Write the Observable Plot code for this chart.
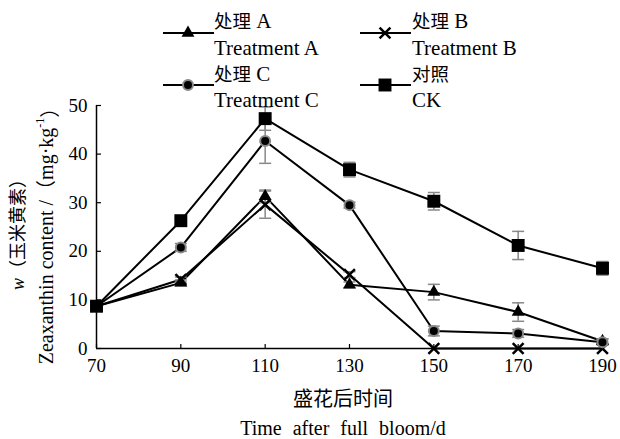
<!DOCTYPE html>
<html>
<head>
<meta charset="utf-8">
<script src="https://cdn.jsdelivr.net/npm/d3@7"></script>
<script src="https://cdn.jsdelivr.net/npm/@observablehq/plot@0.6"></script>
<style>
  body { margin: 0; background: #fff; }
  #chart { width: 620px; height: 439px; overflow: hidden; }
  svg { display: block; }
</style>
</head>
<body>
<div id="chart"></div>
<script>
// ---- data ----
const days = [70, 90, 110, 130, 150, 170, 190];
const seriesCn = ["处理", "处理", "处理", "对照"];
const seriesSuffix = [" A", " B", " C", ""];
const seriesEn = ["Treatment A", "Treatment B", "Treatment C", "CK"];
const valA  = [8.7, 13.5, 31.3, 13.1, 11.6, 7.5, 1.5];
const valB  = [8.7, 14.2, 29.6, 15.2, 0, 0, 0];
const valC  = [8.7, 20.8, 42.7, 29.5, 3.6, 3.1, 1.3];
const valCK = [8.7, 26.3, 47.3, 36.8, 30.3, 21.2, 16.5];
const errA  = [0, 0.6, 1.3, 0.6, 1.6, 1.9, 0.5];
const errB  = [0, 0.5, 2.8, 0.6, 0, 0, 0];
const errC  = [0, 0.8, 4.6, 0.6, 1.0, 0.8, 0.6];
const errCK = [0, 0.5, 2.4, 1.5, 1.8, 2.9, 1.4];
const xTicks = [70, 90, 110, 130, 150, 170, 190];
const yTicks = [0, 10, 20, 30, 40, 50];

const values = [valA, valB, valC, valCK];
const errors = [errA, errB, errC, errCK];
const symbols = ["triangle", "times", "circle", "square"];
const radii = [4.8, 5, 5, 7.3];

const data = [];
seriesEn.forEach((s, i) => {
  days.forEach((d, j) => {
    data.push({series: s, idx: i, day: d, value: values[i][j], err: errors[i][j]});
  });
});
const errData = data.filter(d => d.err > 0);

const capSymbol = {
  draw(ctx, size) { const w = 6; ctx.moveTo(-w, 0); ctx.lineTo(w, 0); }
};

const serif = "'Liberation Serif', 'Times New Roman', 'Noto Sans CJK SC', serif";

// ---- plot ----
const marks = [
  Plot.ruleY([0], {x1: 70, x2: 190, stroke: "black", strokeWidth: 1.5}),
  Plot.ruleX([70], {y1: 0, y2: 50, stroke: "black", strokeWidth: 1.5}),
  Plot.axisX({ticks: xTicks, tickSize: -4, tickPadding: 14, tickFormat: d => String(d), strokeWidth: 1.2, label: null}),
  Plot.axisY({ticks: yTicks, tickSize: -5, tickPadding: 14, tickFormat: d => String(d), strokeWidth: 1.2, label: null}),
  Plot.line(data, {x: "day", y: "value", z: "series", stroke: "black", strokeWidth: 2}),
  Plot.ruleX(errData, {x: "day", y1: d => d.value - d.err, y2: d => d.value + d.err, stroke: "#888", strokeWidth: 1.5}),
  Plot.dot(errData, {x: "day", y: d => d.value - d.err, symbol: capSymbol, stroke: "#888", strokeWidth: 1.5, r: 5}),
  Plot.dot(errData, {x: "day", y: d => d.value + d.err, symbol: capSymbol, stroke: "#888", strokeWidth: 1.5, r: 5})
];
seriesEn.forEach((s, i) => {
  const sub = data.filter(d => d.idx === i);
  const sym = symbols[i];
  if (sym === "times") {
    marks.push(Plot.dot(sub, {x: "day", y: "value", symbol: "times", r: radii[i], stroke: "black", strokeWidth: 2.5}));
  } else if (sym === "circle") {
    marks.push(Plot.dot(sub, {x: "day", y: "value", symbol: "circle", r: radii[i], fill: "black", stroke: "#888", strokeWidth: 2}));
  } else {
    marks.push(Plot.dot(sub, {x: "day", y: "value", symbol: sym, r: radii[i], fill: "black", stroke: "none"}));
  }
});

const plot = Plot.plot({
  width: 620,
  height: 439,
  marginLeft: 96,
  marginRight: 18,
  marginTop: 105,
  marginBottom: 91,
  x: {domain: [70, 190]},
  y: {domain: [0, 50]},
  style: {fontFamily: serif, fontSize: "19px", color: "black", background: "white", overflow: "visible"},
  marks
});

const svg = d3.select(plot);

// ---- legend (top) ----
const legend = svg.append("g")
  .attr("text-anchor", "start")
  .style("font-family", serif).style("font-size", "21px").attr("fill", "black");
const legPos = [
  {lx: 163, tx: 214, ly: 33, b1: 28, b2: 55},
  {lx: 360, tx: 412, ly: 33, b1: 28, b2: 55},
  {lx: 163, tx: 214, ly: 85, b1: 81, b2: 107},
  {lx: 360, tx: 412, ly: 85, b1: 81, b2: 107}
];
const d3sym = {triangle: d3.symbolTriangle, times: d3.symbolTimes, circle: d3.symbolCircle, square: d3.symbolSquare};
seriesEn.forEach((s, i) => {
  const p = legPos[i];
  legend.append("line").attr("x1", p.lx).attr("x2", p.lx + 51).attr("y1", p.ly).attr("y2", p.ly)
    .attr("stroke", "black").attr("stroke-width", 2);
  const sym = symbols[i];
  const path = d3.symbol(d3sym[sym], Math.PI * radii[i] * radii[i])();
  const g = legend.append("path").attr("d", path)
    .attr("transform", `translate(${p.lx + 25},${p.ly})`);
  if (sym === "times") g.attr("fill", "none").attr("stroke", "black").attr("stroke-width", 2.5);
  else if (sym === "circle") g.attr("fill", "black").attr("stroke", "#888").attr("stroke-width", 2);
  else g.attr("fill", "black");
  const t1 = legend.append("text").attr("x", p.tx).attr("y", p.b1).attr("text-anchor", "start");
  t1.append("tspan").style("font-size", "18.5px").text(seriesCn[i]);
  if (seriesSuffix[i]) t1.append("tspan").text(seriesSuffix[i]);
  legend.append("text").attr("x", p.tx).attr("y", p.b2).attr("text-anchor", "start").text(s);
});

// ---- axis titles ----
const yt1 = svg.append("text")
  .attr("transform", "translate(18,230) rotate(-90)")
  .attr("text-anchor", "middle").attr("dominant-baseline", "central")
  .style("font-size", "18px").attr("fill", "black");
yt1.append("tspan").style("font-style", "italic").text("w");
yt1.append("tspan").text("（玉米黄素）");
const yt2 = svg.append("text")
  .attr("transform", "translate(46,231) rotate(-90)")
  .attr("text-anchor", "middle").attr("dominant-baseline", "central")
  .style("font-size", "20px").attr("fill", "black");
yt2.append("tspan").text("Zeaxanthin content /（mg·kg");
yt2.append("tspan").attr("dy", "-0.5em").style("font-size", "12px").text("-1");
yt2.append("tspan").attr("dy", "0.5em").text("）");
svg.append("text").attr("x", 343).attr("y", 406).attr("text-anchor", "middle")
  .style("font-size", "20px").attr("fill", "black").text("盛花后时间");
svg.append("text").attr("x", 343).attr("y", 435).attr("text-anchor", "middle")
  .style("font-size", "20px").style("word-spacing", "6px").attr("fill", "black").text("Time after full bloom/d");

document.getElementById("chart").append(plot);
</script>
</body>
</html>
